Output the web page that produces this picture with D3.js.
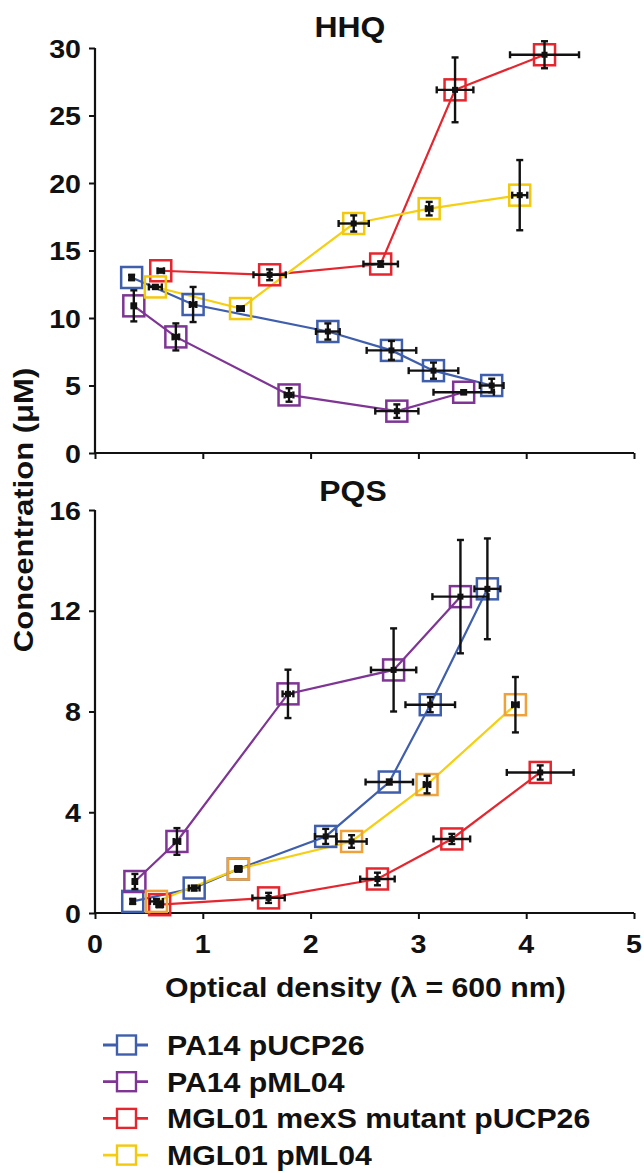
<!DOCTYPE html>
<html><head><meta charset="utf-8">
<script src="https://cdn.jsdelivr.net/npm/d3@7"></script>
<style>body{margin:0;background:#fff}svg{display:block}text{font-family:"Liberation Sans",Arial,sans-serif;font-weight:bold;fill:#111}</style>
</head><body><div id="c"></div>
<script>
// ---- data: each row = [OD600, concentration (µM), OD error, concentration error]
const categories = ["PA14 pUCP26", "PA14 pML04", "MGL01 mexS mutant pUCP26", "MGL01 pML04"];
const panelTitles = ["HHQ", "PQS"];
const xTicks = [0, 1, 2, 3, 4, 5];
const hhqTicks = [0, 5, 10, 15, 20, 25, 30];
const pqsTicks = [0, 4, 8, 12, 16];

const hhq_PA14_pUCP26 = [[0.34,13.0,0.02,0.2],[0.91,11.0,0.03,1.3],[2.16,9.0,0.11,0.6],[2.75,7.6,0.23,0.7],[3.14,6.1,0.23,0.6],[3.68,5.0,0.11,0.5]];
const hhq_PA14_pML04 = [[0.36,10.9,0.02,1.15],[0.75,8.6,0.03,1.0],[1.80,4.3,0.04,0.5],[2.80,3.1,0.2,0.5],[3.42,4.5,0.28,0.15]];
const hhq_MGL01_mexS_pUCP26 = [[0.61,13.5,0.03,0.1],[1.62,13.2,0.15,0.4],[2.65,14.0,0.16,0.2],[3.34,26.9,0.17,2.4],[4.17,29.5,0.32,1.0]];
const hhq_MGL01_pML04 = [[0.56,12.3,0.06,0.15],[1.35,10.7,0.03,0.15],[2.40,17.0,0.14,0.6],[3.10,18.1,0.03,0.5],[3.94,19.1,0.07,2.6]];

const pqs_PA14_pUCP26 = [[0.35,0.46,0.02,0.1],[0.92,0.99,0.05,0.1],[1.33,1.75,0.02,0.1],[2.14,3.04,0.1,0.3],[2.73,5.2,0.22,0.1],[3.11,8.27,0.23,0.3],[3.64,12.87,0.12,2.0]];
const pqs_PA14_pML04 = [[0.37,1.25,0.02,0.3],[0.76,2.84,0.03,0.53],[1.79,8.7,0.05,0.96],[2.77,9.65,0.21,1.65],[3.39,12.56,0.26,2.25]];
const pqs_MGL01_mexS_pUCP26 = [[0.60,0.33,0.03,0.1],[1.61,0.6,0.15,0.2],[2.62,1.35,0.16,0.25],[3.31,2.94,0.17,0.2],[4.13,5.58,0.31,0.28]];
const pqs_MGL01_pML04 = [[0.57,0.46,0.06,0.1],[1.33,1.75,0.03,0.1],[2.38,2.84,0.14,0.25],[3.08,5.1,0.03,0.35],[3.90,8.27,0.03,1.1]];

// ---- styles
const lineColors = ["#3f5fad", "#7e3594", "#e5262e", "#f5cf12"];
const boxColorsHHQ = ["#3f5fad", "#7e3594", "#e5262e", "#f2c90c"];
const boxColorsPQS = ["#3f5fad", "#7e3594", "#e5262e", "#f0a23a"];
const SX = 1.1;

const W = 644, H = 1173;
const svg = d3.select("#c").append("svg").attr("width", W).attr("height", H);

const x = d3.scaleLinear().domain([0, 5]).range([95, 634]);
const panels = [
  { title: panelTitles[0], y: d3.scaleLinear().domain([0, 30]).range([453, 48]), ticks: hhqTicks,
    series: [hhq_PA14_pUCP26, hhq_PA14_pML04, hhq_MGL01_mexS_pUCP26, hhq_MGL01_pML04], box: boxColorsHHQ, tx: 350, ty: 37 },
  { title: panelTitles[1], y: d3.scaleLinear().domain([0, 16]).range([913, 510]), ticks: pqsTicks,
    series: [pqs_PA14_pUCP26, pqs_PA14_pML04, pqs_MGL01_mexS_pUCP26, pqs_MGL01_pML04], box: boxColorsPQS, tx: 353, ty: 501 }
];

function txt(g, s, px, py, size, anchor, extra) {
  return g.append("text").text(s).attr("font-size", size).attr("text-anchor", anchor || "start")
    .attr("transform", `translate(${px},${py}) ${extra || ""} scale(${SX},1)`);
}

panels.forEach((p, pi) => {
  const g = svg.append("g");
  const y = p.y;
  const yAx = g.append("g").attr("transform", `translate(${x(0)},0)`)
    .call(d3.axisLeft(y).tickValues(p.ticks).tickSize(6).tickFormat(""));
  const xAx = g.append("g").attr("transform", `translate(0,${y(0)})`)
    .call(d3.axisBottom(x).tickValues(xTicks).tickSize(6).tickFormat(""));
  [yAx, xAx].forEach(a => { a.selectAll("path,line").attr("stroke", "#111").attr("stroke-width", 2); a.select(".domain").attr("d", null); });
  g.append("line").attr("x1", x(0)).attr("x2", x(0)).attr("y1", y.range()[1]).attr("y2", y(0) + 1).attr("stroke", "#111").attr("stroke-width", 2.2);
  g.append("line").attr("x1", x(0) - 1).attr("x2", x(5)).attr("y1", y(0)).attr("y2", y(0)).attr("stroke", "#111").attr("stroke-width", 2.2);
  p.ticks.forEach(t => txt(g, String(t), 81, y(t) + 9.5, 26, "end"));
  if (pi === 1) xTicks.forEach(t => txt(g, String(t), x(t), 953, 26, "middle"));
  txt(g, p.title, p.tx, p.ty, 29, "middle");

  const line = d3.line().x(d => x(d[0])).y(d => y(d[1]));
  p.series.forEach((s, si) => {
    g.append("path").datum(s).attr("d", line).attr("fill", "none").attr("stroke", lineColors[si]).attr("stroke-width", 2.2);
  });
  p.series.forEach((s, si) => {
    g.selectAll(null).data(s).enter().append("rect")
      .attr("x", d => x(d[0]) - 10.5).attr("y", d => y(d[1]) - 10.5).attr("width", 21).attr("height", 21)
      .attr("fill", "none").attr("stroke", p.box[si]).attr("stroke-width", 2.5);
  });
  p.series.forEach((s, si) => {
    const e = g.append("g").attr("stroke", "#111").attr("stroke-width", 2.4);
    s.forEach(d => {
      const cx = x(d[0]), cy = y(d[1]);
      const x0 = x(d[0] - d[2]), x1 = x(d[0] + d[2]);
      const y0 = y(d[1] - d[3]), y1 = y(d[1] + d[3]);
      e.append("line").attr("x1", x0).attr("x2", x1).attr("y1", cy).attr("y2", cy);
      e.append("line").attr("x1", x0).attr("x2", x0).attr("y1", cy - 3.5).attr("y2", cy + 3.5);
      e.append("line").attr("x1", x1).attr("x2", x1).attr("y1", cy - 3.5).attr("y2", cy + 3.5);
      e.append("line").attr("x1", cx).attr("x2", cx).attr("y1", y0).attr("y2", y1);
      e.append("line").attr("x1", cx - 3.5).attr("x2", cx + 3.5).attr("y1", y0).attr("y2", y0);
      e.append("line").attr("x1", cx - 3.5).attr("x2", cx + 3.5).attr("y1", y1).attr("y2", y1);
      e.append("rect").attr("x", cx - 3).attr("y", cy - 3).attr("width", 6).attr("height", 6).attr("fill", "#111").attr("stroke", "none");
    });
  });
});

// axis titles
txt(svg, "Optical density (\u03bb = 600 nm)", 165, 997, 27.5, "start");
svg.append("text").text("Concentration (\u03bcM)").attr("font-size", 27).attr("text-anchor", "middle")
  .attr("transform", `translate(33,510) rotate(-90) scale(1.15,1)`);

// legend
categories.forEach((c, i) => {
  const by = 1055 + i * 36.7;
  const cy = by - 10;
  svg.append("line").attr("x1", 103).attr("x2", 148).attr("y1", cy).attr("y2", cy).attr("stroke", lineColors[i]).attr("stroke-width", 2.8);
  svg.append("rect").attr("x", 117).attr("y", cy - 9.5).attr("width", 19).attr("height", 19).attr("fill", "#fff").attr("stroke", boxColorsHHQ[i]).attr("stroke-width", 2.4);
  svg.append("text").text(c).attr("font-size", 28).attr("transform", `translate(167,${by}) scale(1.08,1)`);
});
</script></body></html>
